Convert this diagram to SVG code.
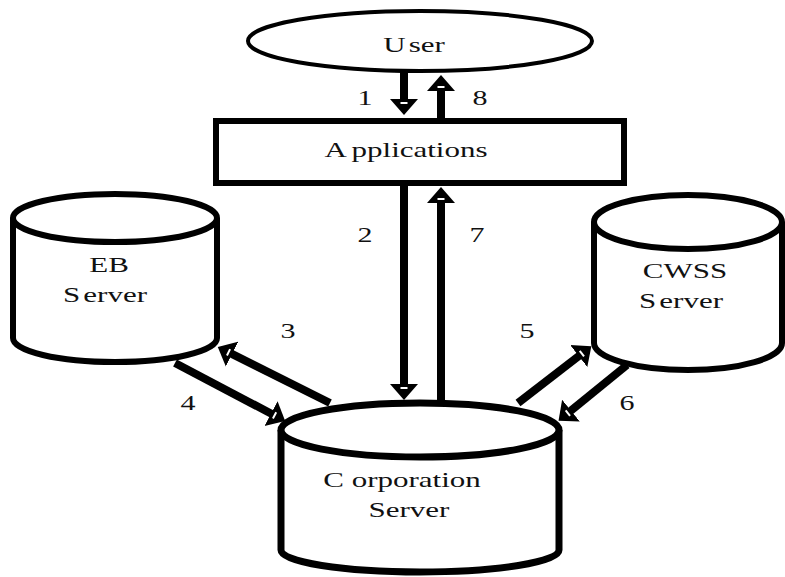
<svg xmlns="http://www.w3.org/2000/svg" width="785" height="577" viewBox="0 0 785 577">
<style>
.shape{fill:#fff;stroke:#000;stroke-width:6}
.lbl{font-family:"Liberation Serif","Times New Roman","DejaVu Serif",serif;font-size:20px;fill:#111;text-anchor:middle}
.arr{stroke:#000;stroke-width:8;fill:none;marker-end:url(#head)}
</style>
<defs>
<marker id="head" markerUnits="userSpaceOnUse" viewBox="0 -15 18 30" markerWidth="18" markerHeight="30" refX="2" refY="0" orient="auto">
<path d="M0,-14 L16,0 L0,14 Z" fill="#000"/>
<path d="M4,-3.5 L4,3.5" stroke="#fff" stroke-width="2"/>
</marker>
</defs>
<rect width="785" height="577" fill="#fff"/>
<g id="user">
<ellipse cx="420" cy="41" rx="172" ry="30" class="shape" style="stroke-width:4"/>
<text class="lbl" transform="translate(414,52) scale(1.55,1)">U<tspan dx="2">ser</tspan></text>
</g>
<g id="applications">
<rect x="216" y="121" width="408" height="62" class="shape"/>
<text class="lbl" transform="translate(406,157) scale(1.55,1)">A<tspan dx="3">pplications</tspan></text>
</g>
<g id="eb-server">
<path d="M13,218 L13,338 A102,24 0 0 0 217,338 L217,218" class="shape"/>
<ellipse cx="115" cy="218" rx="102" ry="24" class="shape"/>
<text class="lbl" transform="translate(109,272) scale(1.55,1)">EB</text>
<text class="lbl" transform="translate(105,302) scale(1.55,1)">S<tspan dx="2">erver</tspan></text>
</g>
<g id="cwss-server">
<path d="M594,222 L594,343 A94,27 0 0 0 782,343 L782,222" class="shape"/>
<ellipse cx="688" cy="222" rx="94" ry="27" class="shape"/>
<text class="lbl" transform="translate(685,278) scale(1.55,1)">CWSS</text>
<text class="lbl" transform="translate(681,308) scale(1.55,1)">S<tspan dx="2">erver</tspan></text>
</g>
<g id="corporation-server">
<path d="M281,430 L281,550 A139,22 0 0 0 559,550 L559,430" class="shape" style="stroke-width:7"/>
<ellipse cx="420" cy="430" rx="139" ry="27" class="shape" style="stroke-width:7"/>
<text class="lbl" transform="translate(402,487) scale(1.55,1)">C<tspan dx="5">orporation</tspan></text>
<text class="lbl" transform="translate(409,517) scale(1.55,1)">Server</text>
</g>
<g id="connectors">
<line x1="404" y1="71" x2="404" y2="101" class="arr"/>
<line x1="441" y1="118" x2="441" y2="89" class="arr"/>
<line x1="404" y1="183" x2="404" y2="386" class="arr"/>
<line x1="441" y1="403" x2="441" y2="201" class="arr"/>
<line x1="330" y1="403" x2="230.3" y2="353.2" class="arr"/>
<line x1="175" y1="363" x2="272.8" y2="414.5" class="arr"/>
<line x1="518" y1="403" x2="580.3" y2="354.8" class="arr"/>
<line x1="627" y1="365" x2="569.4" y2="411.9" class="arr"/>
<text class="lbl" transform="translate(365,105) scale(1.5,1)">1</text>
<text class="lbl" transform="translate(480,105) scale(1.5,1)">8</text>
<text class="lbl" transform="translate(365,242) scale(1.5,1)">2</text>
<text class="lbl" transform="translate(477,242) scale(1.5,1)">7</text>
<text class="lbl" transform="translate(288,338) scale(1.5,1)">3</text>
<text class="lbl" transform="translate(188,410) scale(1.5,1)">4</text>
<text class="lbl" transform="translate(527,338) scale(1.5,1)">5</text>
<text class="lbl" transform="translate(627,410) scale(1.5,1)">6</text>
</g>
</svg>
